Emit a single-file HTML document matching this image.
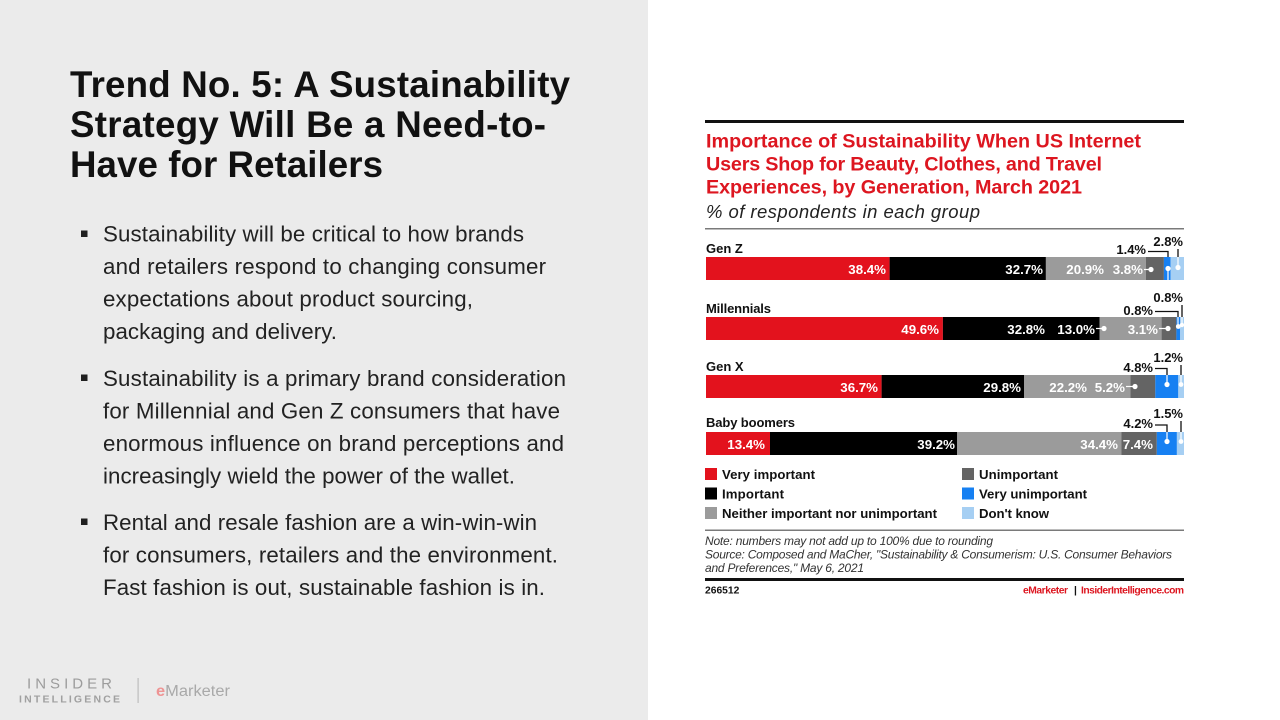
<!DOCTYPE html>
<html><head><meta charset="utf-8"><style>
html,body{margin:0;padding:0;background:#fff;width:1280px;height:720px;overflow:hidden}
svg{display:block}
text{font-family:"Liberation Sans",Arial,sans-serif}
.b{font-weight:bold}
.it{font-style:italic}
</style></head><body>
<svg width="1280" height="720" viewBox="0 0 1280 720" xmlns="http://www.w3.org/2000/svg">
<rect x="0" y="0" width="1280" height="720" fill="#ffffff"/>
<rect x="0" y="0" width="648" height="720" fill="#ebebeb"/>

<!-- Left title -->
<g class="b" font-size="36.7" fill="#111">
<text x="70" y="97" textLength="500" lengthAdjust="spacing">Trend No. 5: A Sustainability</text>
<text x="70" y="137" textLength="476" lengthAdjust="spacing">Strategy Will Be a Need-to-</text>
<text x="70" y="177" textLength="313" lengthAdjust="spacing">Have for Retailers</text>
</g>

<!-- bullets -->
<g fill="#1f1f1f">
<rect x="81" y="230.5" width="6.5" height="6.5"/>
<rect x="81" y="374.5" width="6.5" height="6.5"/>
<rect x="81" y="518.5" width="6.5" height="6.5"/>
</g>
<g font-size="22.3" fill="#222">
<text x="103" y="241.7" textLength="421" lengthAdjust="spacing">Sustainability will be critical to how brands</text>
<text x="103" y="274.2" textLength="443" lengthAdjust="spacing">and retailers respond to changing consumer</text>
<text x="103" y="306.7" textLength="370" lengthAdjust="spacing">expectations about product sourcing,</text>
<text x="103" y="339" textLength="234" lengthAdjust="spacing">packaging and delivery.</text>

<text x="103" y="386" textLength="463" lengthAdjust="spacing">Sustainability is a primary brand consideration</text>
<text x="103" y="418.5" textLength="457" lengthAdjust="spacing">for Millennial and Gen Z consumers that have</text>
<text x="103" y="451" textLength="461" lengthAdjust="spacing">enormous influence on brand perceptions and</text>
<text x="103" y="483.5" textLength="412" lengthAdjust="spacing">increasingly wield the power of the wallet.</text>

<text x="103" y="530" textLength="434" lengthAdjust="spacing">Rental and resale fashion are a win-win-win</text>
<text x="103" y="562.5" textLength="455" lengthAdjust="spacing">for consumers, retailers and the environment.</text>
<text x="103" y="595" textLength="442" lengthAdjust="spacing">Fast fashion is out, sustainable fashion is in.</text>
</g>

<!-- logo -->
<text x="27" y="688.5" font-size="15" fill="#9c9c9c" textLength="85" lengthAdjust="spacing">INSIDER</text>
<text x="19" y="702.5" font-size="10.5" class="b" fill="#a0a0a0" textLength="101" lengthAdjust="spacing">INTELLIGENCE</text>
<rect x="137.5" y="678" width="1.2" height="25" fill="#bdbdbd"/>
<text x="156" y="696" font-size="15.5" fill="#a9a9a9" textLength="74" lengthAdjust="spacingAndGlyphs"><tspan fill="#ee9494" class="b">e</tspan>Marketer</text>

<!-- Chart -->
<rect x="705" y="120" width="479" height="3" fill="#111"/>
<g class="b" font-size="19.8" fill="#dd1620">
<text x="706" y="147.3" textLength="435" lengthAdjust="spacing">Importance of Sustainability When US Internet</text>
<text x="706" y="170.3" textLength="396" lengthAdjust="spacing">Users Shop for Beauty, Clothes, and Travel</text>
<text x="706" y="193.3" textLength="376" lengthAdjust="spacing">Experiences, by Generation, March 2021</text>
</g>
<text x="706" y="218" class="it" font-size="18.5" fill="#222" textLength="274" lengthAdjust="spacing">% of respondents in each group</text>
<rect x="705" y="228" width="479" height="1.5" fill="#7a7a7a"/>

<!-- row labels -->
<g class="b" font-size="13" fill="#111">
<text x="706" y="253">Gen Z</text>
<text x="706" y="313" textLength="65" lengthAdjust="spacing">Millennials</text>
<text x="706" y="371">Gen X</text>
<text x="706" y="427" textLength="89" lengthAdjust="spacing">Baby boomers</text>
</g>

<!-- Gen Z bar -->
<g>
<rect x="706" y="257" width="183.6" height="23" fill="#e3121d"/>
<rect x="889.6" y="257" width="156.3" height="23" fill="#000"/>
<rect x="1045.9" y="257" width="99.9" height="23" fill="#9b9b9b"/>
<rect x="1145.8" y="257" width="18.1" height="23" fill="#646464"/>
<rect x="1163.9" y="257" width="6.7" height="23" fill="#1680f2"/>
<rect x="1170.6" y="257" width="13.4" height="23" fill="#a6cff3"/>
</g>
<!-- Millennials -->
<g>
<rect x="706" y="317" width="236.9" height="23" fill="#e3121d"/>
<rect x="942.9" y="317" width="156.6" height="23" fill="#000"/>
<rect x="1099.5" y="317" width="62.1" height="23" fill="#9b9b9b"/>
<rect x="1161.6" y="317" width="14.8" height="23" fill="#646464"/>
<rect x="1176.4" y="317" width="3.8" height="23" fill="#1680f2"/>
<rect x="1180.2" y="317" width="3.8" height="23" fill="#a6cff3"/>
</g>
<!-- Gen X -->
<g>
<rect x="706" y="375" width="175.6" height="23" fill="#e3121d"/>
<rect x="881.6" y="375" width="142.6" height="23" fill="#000"/>
<rect x="1024.2" y="375" width="106.2" height="23" fill="#9b9b9b"/>
<rect x="1130.4" y="375" width="24.9" height="23" fill="#646464"/>
<rect x="1155.3" y="375" width="23" height="23" fill="#1680f2"/>
<rect x="1178.3" y="375" width="5.7" height="23" fill="#a6cff3"/>
</g>
<!-- Boomers -->
<g>
<rect x="706" y="432" width="64" height="23" fill="#e3121d"/>
<rect x="770" y="432" width="187.2" height="23" fill="#000"/>
<rect x="957.2" y="432" width="164.3" height="23" fill="#9b9b9b"/>
<rect x="1121.5" y="432" width="35.3" height="23" fill="#646464"/>
<rect x="1156.8" y="432" width="20.1" height="23" fill="#1680f2"/>
<rect x="1176.9" y="432" width="7.1" height="23" fill="#a6cff3"/>
</g>

<!-- bar value labels -->
<g class="b" font-size="13.3" fill="#fff" text-anchor="end">
<text x="886" y="274">38.4%</text>
<text x="1043" y="274">32.7%</text>
<text x="1104" y="274">20.9%</text>
<text x="1143" y="274">3.8%</text>

<text x="939" y="334">49.6%</text>
<text x="1045" y="334">32.8%</text>
<text x="1095" y="334">13.0%</text>
<text x="1158" y="334">3.1%</text>

<text x="878" y="392">36.7%</text>
<text x="1021" y="392">29.8%</text>
<text x="1087" y="392">22.2%</text>
<text x="1125" y="392">5.2%</text>

<text x="765" y="449">13.4%</text>
<text x="955" y="449">39.2%</text>
<text x="1118" y="449">34.4%</text>
<text x="1153" y="449">7.4%</text>
</g>

<!-- inner leader lines & dots (white) -->
<g stroke="#fff" stroke-width="1.2" fill="none">
<path d="M1144 269.5 H1151"/>
<path d="M1096 328.5 H1104"/>
<path d="M1159 328.5 H1168"/>
<path d="M1126 386.5 H1135"/>
<path d="M1168 280 V268 M1178 257 V267"/>
<path d="M1178 317 V327 M1182 317 V327"/>
<path d="M1167 375 V385 M1181 375 V385"/>
<path d="M1167 432 V442 M1181 432 V442"/>
</g>
<g fill="#fff">
<circle cx="1151" cy="269.5" r="2.6"/>
<circle cx="1104" cy="328.5" r="2.6"/>
<circle cx="1168" cy="328.5" r="2.6"/>
<circle cx="1135" cy="386.5" r="2.6"/>
<circle cx="1168" cy="268.5" r="2.6"/>
<circle cx="1178" cy="267.5" r="2.6"/>
<circle cx="1178.3" cy="326.5" r="2.4"/>
<circle cx="1182" cy="325" r="2.2"/>
<circle cx="1167" cy="384.5" r="2.6"/>
<circle cx="1181" cy="384.5" r="2.4"/>
<circle cx="1167" cy="441.5" r="2.6"/>
<circle cx="1181" cy="441.5" r="2.4"/>
</g>

<!-- outside annotations -->
<g class="b" font-size="13" fill="#111" text-anchor="end">
<text x="1146" y="254">1.4%</text>
<text x="1183" y="246">2.8%</text>
<text x="1153" y="315">0.8%</text>
<text x="1183" y="302">0.8%</text>
<text x="1153" y="372">4.8%</text>
<text x="1183" y="362">1.2%</text>
<text x="1153" y="428">4.2%</text>
<text x="1183" y="418">1.5%</text>
</g>
<g stroke="#111" stroke-width="1.3" fill="none">
<path d="M1148 251.5 H1168 V257"/>
<path d="M1178 249 V257"/>
<path d="M1155 311.5 H1178 V317"/>
<path d="M1182 305 V317"/>
<path d="M1155 368.5 H1167 V375"/>
<path d="M1181 365 V375"/>
<path d="M1155 425 H1167 V432"/>
<path d="M1181 421 V432"/>
</g>

<!-- legend -->
<rect x="705" y="468" width="12" height="12" fill="#e3121d"/>
<rect x="705" y="487.5" width="12" height="12" fill="#000"/>
<rect x="705" y="507" width="12" height="12" fill="#9b9b9b"/>
<rect x="962" y="468" width="12" height="12" fill="#646464"/>
<rect x="962" y="487.5" width="12" height="12" fill="#1680f2"/>
<rect x="962" y="507" width="12" height="12" fill="#a6cff3"/>
<g class="b" font-size="13.2" fill="#111">
<text x="722" y="479" textLength="93" lengthAdjust="spacing">Very important</text>
<text x="722" y="498.5" textLength="62" lengthAdjust="spacing">Important</text>
<text x="722" y="518" textLength="215" lengthAdjust="spacing">Neither important nor unimportant</text>
<text x="979" y="479" textLength="79" lengthAdjust="spacing">Unimportant</text>
<text x="979" y="498.5" textLength="108" lengthAdjust="spacing">Very unimportant</text>
<text x="979" y="518" textLength="70" lengthAdjust="spacing">Don't know</text>
</g>
<rect x="705" y="529.5" width="479" height="1.5" fill="#7a7a7a"/>

<!-- notes -->
<g class="it" font-size="12" fill="#333">
<text x="705" y="545" textLength="288" lengthAdjust="spacing">Note: numbers may not add up to 100% due to rounding</text>
<text x="705" y="558.5" textLength="467" lengthAdjust="spacing">Source: Composed and MaCher, "Sustainability &amp; Consumerism: U.S. Consumer Behaviors</text>
<text x="705" y="572" textLength="159" lengthAdjust="spacing">and Preferences," May 6, 2021</text>
</g>
<rect x="705" y="578" width="479" height="3" fill="#111"/>
<text x="705" y="593.5" class="b" font-size="10.3" fill="#111">266512</text>
<g class="b" font-size="10.3">
<text x="1023" y="593.5" fill="#dd1620" textLength="45" lengthAdjust="spacing">eMarketer</text>
<text x="1074" y="593.5" fill="#111">|</text>
<text x="1081" y="593.5" fill="#dd1620" textLength="103" lengthAdjust="spacing">InsiderIntelligence.com</text>
</g>
</svg>
</body></html>
